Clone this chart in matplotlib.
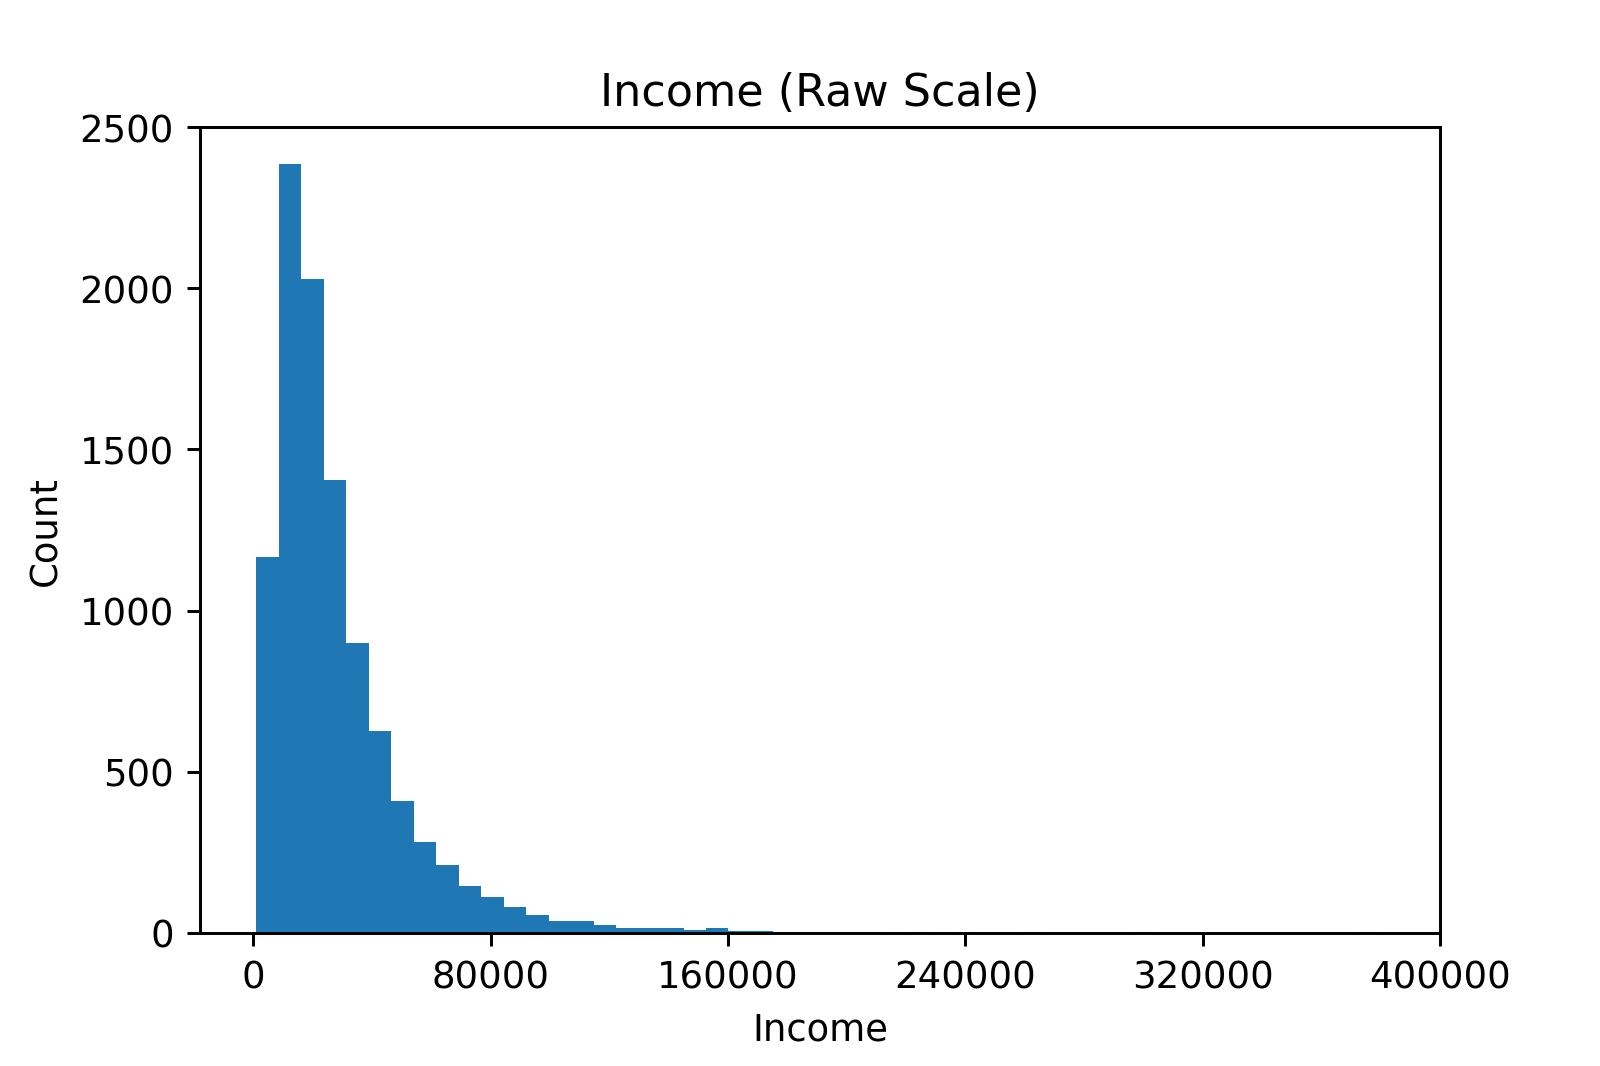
import matplotlib
matplotlib.use("Agg")
import matplotlib.pyplot as plt
import numpy as np

bin_start = 1000
bin_width = 7580
counts = [1165, 2385, 2030, 1405, 900, 625, 410, 280, 210, 145,
          110, 80, 55, 35, 35, 25, 15, 15, 15, 8,
          14, 5, 4, 2, 2, 1, 1, 1, 0, 1,
          0, 1, 0, 0, 1, 0, 0, 0, 0, 1,
          0, 0, 0, 0, 0, 0, 0, 0, 0, 1]

edges = bin_start + bin_width * np.arange(len(counts) + 1)

fig, ax = plt.subplots(figsize=(6, 4), dpi=266.67)
ax.hist(edges[:-1], bins=edges, weights=counts, color="#1f77b4")
ax.set_xticks([0, 80000, 160000, 240000, 320000, 400000])
ax.set_ylim(0, 2500)
ax.set_title("Income (Raw Scale)")
ax.set_xlabel("Income")
ax.set_ylabel("Count")
fig.subplots_adjust(left=0.125, right=0.9, top=0.88, bottom=0.125)
fig.savefig("out.png")
